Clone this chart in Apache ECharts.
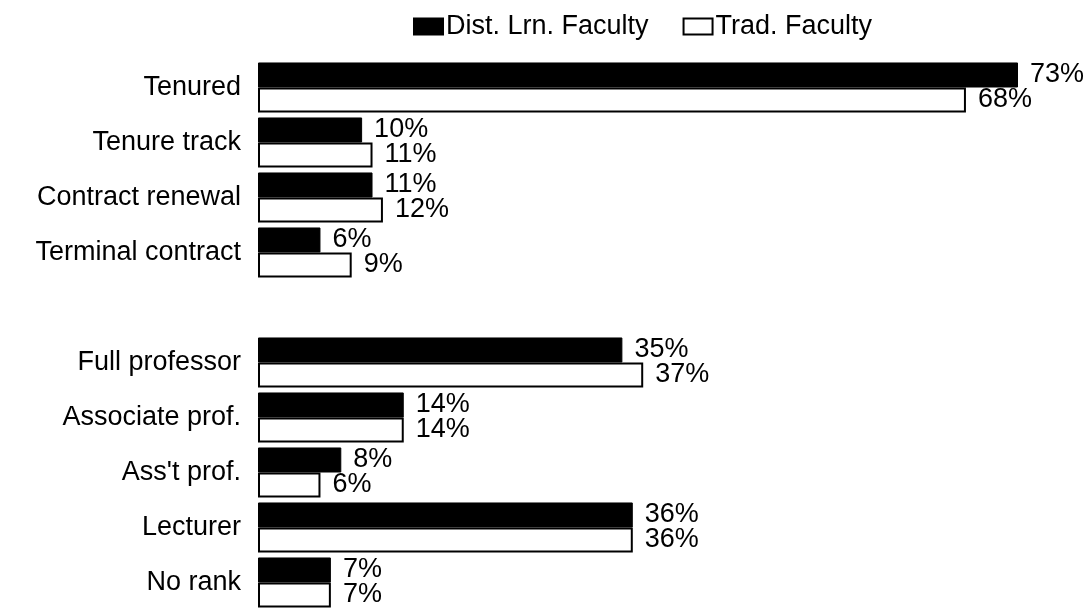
<!DOCTYPE html>
<html>
<head>
<meta charset="utf-8">
<script src="https://cdn.jsdelivr.net/npm/echarts@6/dist/echarts.min.js"></script>
<style>
  html, body { margin: 0; padding: 0; background: #fff; }
  #chart { width: 1092px; height: 610px; }
</style>
</head>
<body>
<div id="chart"></div>
<script>
// categories top to bottom, '' is the spacer row between the two groups
const categories = [
  "Tenured", "Tenure track", "Contract renewal", "Terminal contract", "",
  "Full professor", "Associate prof.", "Ass't prof.", "Lecturer", "No rank"
];
const distLrn = [73, 10, 11, 6, null, 35, 14, 8, 36, 7];
const tradFac = [68, 11, 12, 9, null, 37, 14, 6, 36, 7];

const font = "Liberation Sans, Arial, sans-serif";

const chart = echarts.init(document.getElementById("chart"));
chart.setOption({
  backgroundColor: "#fff",
  animation: false,
  legend: {
    top: 8,
    left: 408,
    icon: "rect",
    itemWidth: 29,
    itemHeight: 16,
    itemGap: 34,
    textStyle: { fontFamily: font, fontSize: 27, color: "#000", padding: [0, 0, 0, -2] },
    data: ["Dist. Lrn. Faculty", "Trad. Faculty"]
  },
  grid: { left: 258, top: 60, width: 760, height: 551 },
  xAxis: {
    type: "value",
    min: 0,
    max: 73,
    show: false
  },
  yAxis: {
    type: "category",
    inverse: true,
    data: categories,
    axisLine: { show: false },
    axisTick: { show: false },
    axisLabel: { fontFamily: font, fontSize: 27, color: "#000", margin: 17 }
  },
  series: [
    {
      name: "Dist. Lrn. Faculty",
      type: "bar",
      data: distLrn,
      barGap: "0%",
      barCategoryGap: "9%",
      itemStyle: { color: "#000", borderColor: "#000", borderWidth: 1 },
      label: {
        show: true, position: "right", distance: 12,
        fontFamily: font, fontSize: 27, color: "#000",
        formatter: p => p.value + "%"
      }
    },
    {
      name: "Trad. Faculty",
      type: "bar",
      data: tradFac,
      barGap: "0%",
      barCategoryGap: "9%",
      itemStyle: { color: "#fff", borderColor: "#000", borderWidth: 2 },
      label: {
        show: true, position: "right", distance: 12,
        fontFamily: font, fontSize: 27, color: "#000",
        formatter: p => p.value + "%"
      }
    }
  ]
});
</script>
</body>
</html>
